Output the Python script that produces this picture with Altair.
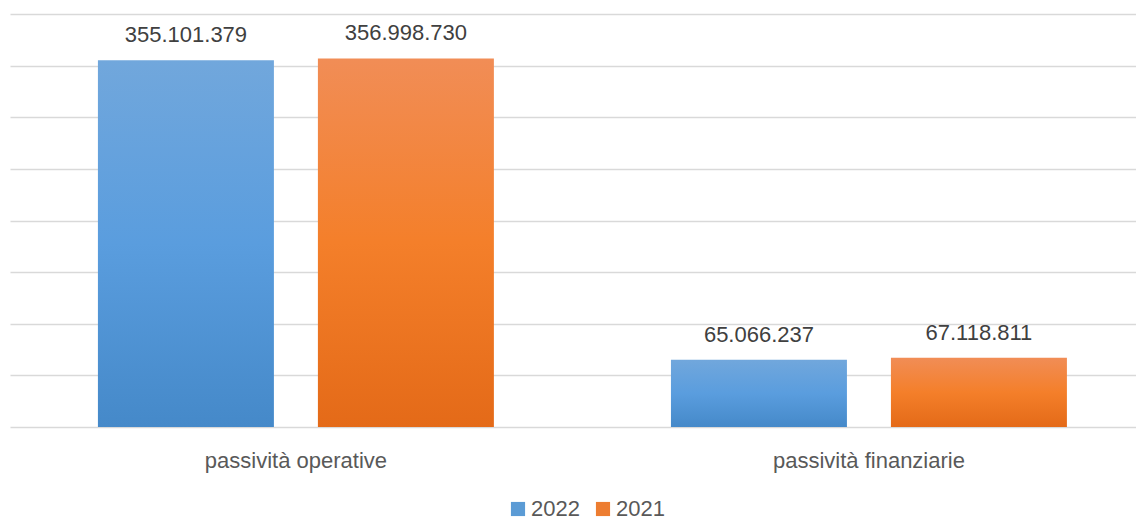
import altair as alt
import pandas as pd

categories = ["passività operative", "passività finanziarie"]
series = ["2022", "2021"]
values_2022 = [355101379, 65066237]
values_2021 = [356998730, 67118811]

rows = []
for i, c in enumerate(categories):
    rows.append({"category": c, "series": "2022", "value": values_2022[i]})
    rows.append({"category": c, "series": "2021", "value": values_2021[i]})
df = pd.DataFrame(rows)
df["label"] = df["value"].map(lambda v: f"{v:,}".replace(",", "."))

grad_blue = {
    "gradient": "linear", "x1": 0, "y1": 0, "x2": 0, "y2": 1,
    "stops": [
        {"offset": 0, "color": "#71A7DC"},
        {"offset": 0.5, "color": "#5A9DDE"},
        {"offset": 1, "color": "#4589C9"},
    ],
}
grad_orange = {
    "gradient": "linear", "x1": 0, "y1": 0, "x2": 0, "y2": 1,
    "stops": [
        {"offset": 0, "color": "#F18D56"},
        {"offset": 0.5, "color": "#F47F2A"},
        {"offset": 1, "color": "#E46A18"},
    ],
}

FONT = "Liberation Sans"

base = alt.Chart(df).encode(
    x=alt.X(
        "category:N",
        sort=categories,
        title=None,
        scale=alt.Scale(paddingInner=0.309, paddingOuter=0.137, align=0.56),
        axis=alt.Axis(
            domain=False, ticks=False, labelAngle=0, labelFontSize=22,
            labelColor="#595959", labelPadding=23, labelFont=FONT, labelLimit=0,
        ),
    ),
    xOffset=alt.XOffset(
        "series:N", sort=series,
        scale=alt.Scale(domain=series, paddingInner=0.2, paddingOuter=0),
    ),
    y=alt.Y(
        "value:Q",
        title=None,
        scale=alt.Scale(domain=[0, 400000000], nice=False),
        axis=alt.Axis(
            labels=False, ticks=False, domain=False, grid=True,
            values=[i * 50000000 for i in range(9)],
            gridColor="#D9D9D9", gridWidth=1.5,
        ),
    ),
)

bars = base.mark_bar().encode(
    fill=alt.condition("datum.series == '2022'", alt.value(grad_blue), alt.value(grad_orange))
)

legend_layer = base.mark_point(filled=True, shape="square", opacity=0).encode(
    color=alt.Color(
        "series:N", sort=series,
        scale=alt.Scale(domain=series, range=["#5B9BD5", "#ED7D31"]),
        legend=alt.Legend(
            title=None, orient="none", direction="horizontal",
            legendX=497, legendY=484,
            symbolType="square", symbolSize=200, symbolOpacity=1,
            symbolStrokeWidth=0, labelFontSize=22, labelColor="#595959",
            labelFont=FONT, labelOffset=2, columnPadding=12,
        ),
    )
)

labels = base.mark_text(
    baseline="alphabetic", dy=-18, fontSize=22, color="#404040", font=FONT
).encode(text="label:N")

chart = alt.layer(bars, legend_layer, labels).properties(
    width=1126, height=413,
    padding={"left": 2, "top": 6, "right": 0, "bottom": 0},
).configure_view(stroke=None)

chart.save("out.html", embed_options={"renderer": "svg", "actions": False})
